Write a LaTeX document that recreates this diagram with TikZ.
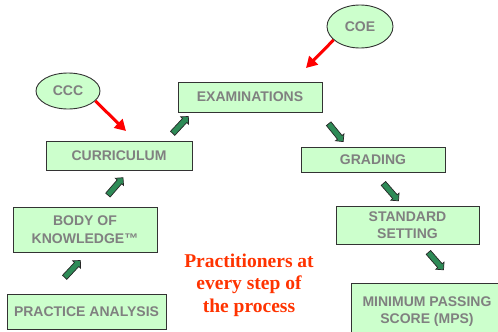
\documentclass[tikz,border=0pt]{standalone}
\usepackage{fontspec}
\setmainfont{Liberation Sans}
\newfontfamily\serifbold{Liberation Serif}
\usetikzlibrary{shapes.geometric,shapes.arrows,arrows.meta}
\definecolor{boxgreen}{HTML}{CCFFCC}
\definecolor{txtgray}{HTML}{808080}
\definecolor{arrgreen}{HTML}{2E8B57}
\definecolor{redtxt}{HTML}{FF3300}
\tikzset{
  stagebox/.style={draw=black!80, line width=0.9pt, fill=boxgreen, inner sep=0pt,
    align=center, text=txtgray, font=\fontsize{14}{17.5}\selectfont\bfseries},
  oval/.style={ellipse, draw=black!80, line width=0.9pt, fill=boxgreen, inner sep=0pt,
    text=txtgray, font=\fontsize{14}{17}\selectfont\bfseries},
  garrow/.style={single arrow, draw=black!85, line width=0.7pt, fill=arrgreen,
    inner sep=2.6pt, minimum height=23pt, minimum width=10.5pt, single arrow head extend=2.5pt},
  redarrow/.style={draw=red, line width=3pt, -{Triangle[length=11pt,width=12pt]}},
}
\begin{document}
\begin{tikzpicture}[x=1pt,y=-1pt]
\useasboundingbox (0,0) rectangle (498,332);
% boxes
\node[stagebox, minimum width=159, minimum height=35] (pa) at (86.5,311.5) {PRACTICE ANALYSIS};
\node[stagebox, minimum width=144, minimum height=45] (bok) at (85,229.5) {BODY OF\\KNOWLEDGE™};
\node[stagebox, minimum width=146, minimum height=29] (cur) at (119,155.5) {CURRICULUM};
\node[stagebox, minimum width=144, minimum height=30] (exam) at (250,97) {EXAMINATIONS};
\node[stagebox, minimum width=144, minimum height=25] (grad) at (373,159.5) {GRADING};
\node[stagebox, minimum width=143, minimum height=38] (ss) at (407.5,225) {STANDARD\\SETTING};
\node[stagebox, minimum width=152, minimum height=57] (mps) at (427,311.5) {MINIMUM PASSING\\SCORE (MPS)};
% ovals
\node[oval, minimum width=64, minimum height=36] (ccc) at (68,91) {CCC};
\node[oval, minimum width=66, minimum height=43] (coe) at (360,26.5) {COE};
% red arrows
\coordinate (ccctip) at (126,131);
\coordinate (coetip) at (306,68);
\draw[redarrow] (ccc.-20) -- (ccctip);
\draw[redarrow] (coe.207) -- (coetip);
% green block arrows
\node[garrow, rotate=47] (g1) at (71.5,270) {};
\node[garrow, rotate=49] (g2) at (114.5,187.5) {};
\node[garrow, rotate=47] (g3) at (179.5,126) {};
\node[garrow, rotate=-51] (g4) at (335,131.5) {};
\node[garrow, rotate=-49] (g5) at (390,191) {};
\node[garrow, rotate=-49] (g6) at (435,260) {};
% caption
\node[text=redtxt, align=center, font=\serifbold\fontsize{19.5}{22.5}\selectfont\bfseries] (cap) at (249,285) {Practitioners at\\every step of\\the process};
\end{tikzpicture}
\end{document}
